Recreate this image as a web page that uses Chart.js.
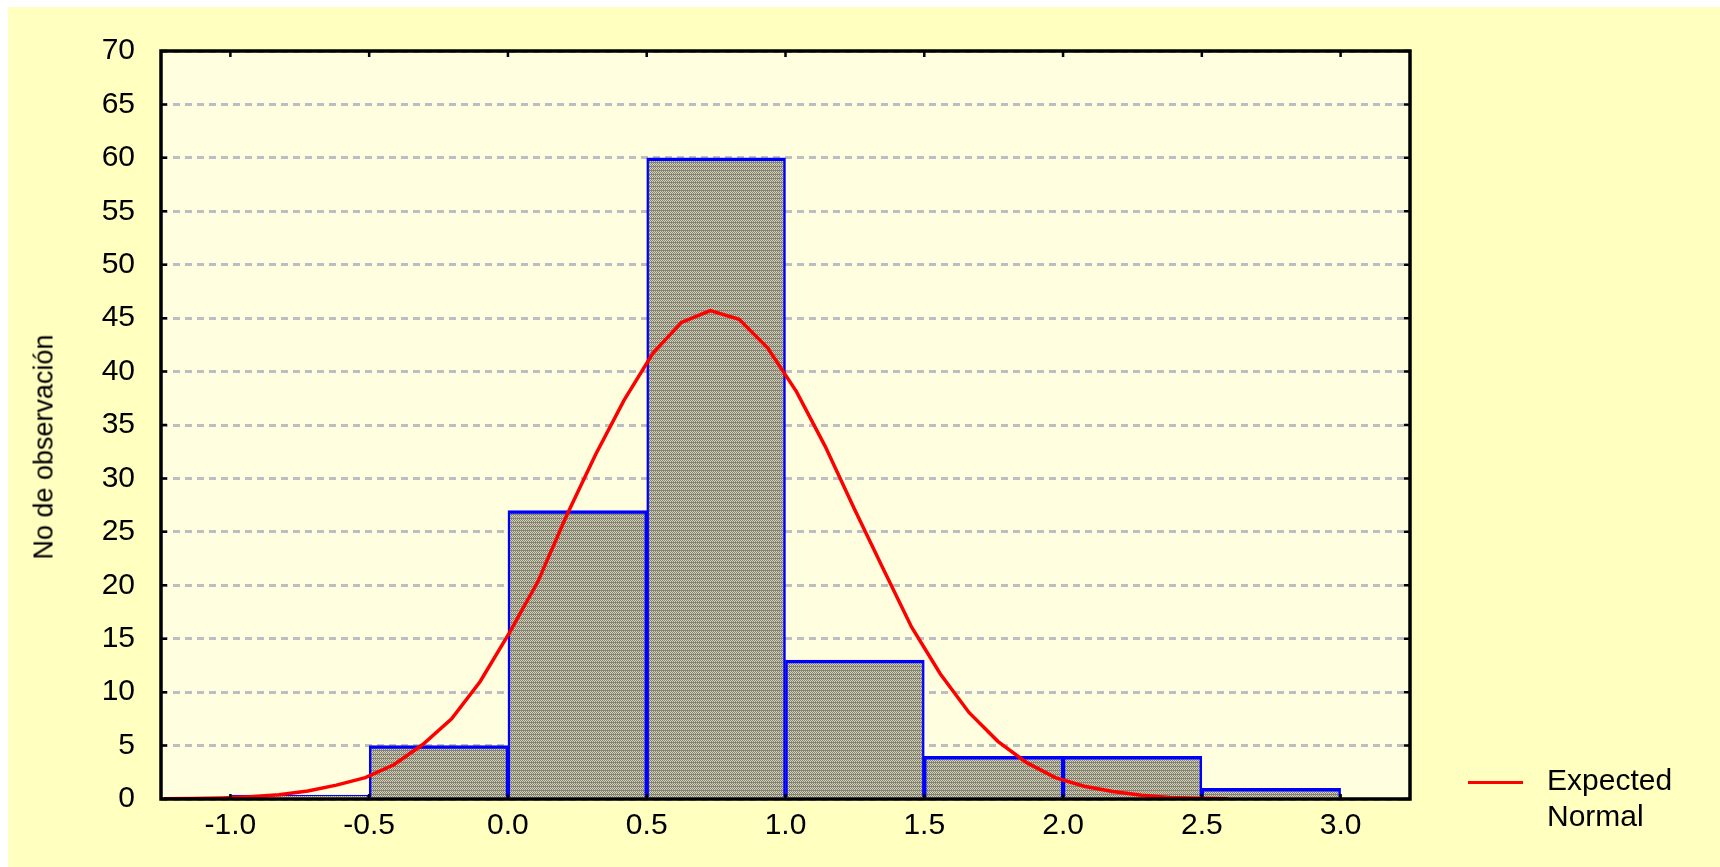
<!DOCTYPE html>
<html>
<head>
<meta charset="utf-8">
<script src="https://cdn.jsdelivr.net/npm/chart.js@4.4.1/dist/chart.umd.min.js"></script>
<style>
  body { margin: 0; background: #ffffff; font-family: "Liberation Sans", Arial, sans-serif; }
  #panel { position: absolute; left: 8px; top: 7px; width: 1712px; height: 860px; background: #ffffc0; }
  #chart-wrap { position: absolute; left: 0; top: 0; width: 1712px; height: 860px; }
  #ytitle { position: absolute; left: 44px; top: 447px; transform: translate(-50%, -50%) rotate(-90deg);
            font-size: 27px; white-space: nowrap; color: #000; }
  #legend-line { position: absolute; left: 1468px; top: 781px; width: 55px; height: 3px; background: #ff0000; }
  #legend-text { position: absolute; left: 1547px; top: 762px; font-size: 30px; line-height: 36px; color: #000; }
</style>
</head>
<body>
<div id="panel">
  <div id="chart-wrap"><canvas id="histograma"></canvas></div>
</div>
<div id="ytitle">No de observación</div>
<div id="legend-line"></div>
<div id="legend-text">Expected<br>Normal</div>

<script>
// Histograma: centros das classes e frequências
const binCenters = [-0.75, -0.25, 0.25, 0.75, 1.25, 1.75, 2.25, 2.75];
const binCounts = [0, 5, 27, 60, 13, 4, 4, 1];

// Curva normal esperada
const curveX = [-1.239, -1.136, -1.032, -0.929, -0.825, -0.721, -0.618, -0.514, -0.411, -0.307,
  -0.203, -0.100, 0.004, 0.107, 0.211, 0.315, 0.418, 0.522, 0.625, 0.729,
  0.833, 0.936, 1.040, 1.143, 1.247, 1.351, 1.454, 1.558, 1.661, 1.765,
  1.869, 1.972, 2.076, 2.179, 2.283, 2.387, 2.490, 2.594];
const curveY = [0.02, 0.05, 0.1, 0.2, 0.4, 0.75, 1.3, 2.0, 3.2, 5.1,
  7.5, 11.0, 15.5, 20.3, 26.5, 32.2, 37.3, 41.7, 44.6, 45.7,
  44.9, 42.2, 38.1, 33.0, 27.2, 21.6, 16.1, 11.7, 8.1, 5.4,
  3.4, 2.0, 1.2, 0.7, 0.35, 0.15, 0.06, 0.02];

// Marcas dos eixos
const xTicks = [-1.0, -0.5, 0.0, 0.5, 1.0, 1.5, 2.0, 2.5, 3.0];
const yTicks = [0, 5, 10, 15, 20, 25, 30, 35, 40, 45, 50, 55, 60, 65, 70];

// Textura hachurada das barras
function makeHatch() {
  const tile = document.createElement('canvas');
  tile.width = 2;
  tile.height = 4;
  const t = tile.getContext('2d');
  const light = '#d4d2bb', dark = '#858371';
  t.fillStyle = light; t.fillRect(0, 0, 2, 4);
  t.fillStyle = dark;
  t.fillRect(1, 0, 1, 1);
  t.fillRect(0, 1, 1, 1);
  t.fillRect(1, 2, 1, 1);
  t.fillRect(0, 3, 2, 1);
  return t.createPattern(tile, 'repeat');
}

// Fundo da área do gráfico
const plotBackground = {
  id: 'plotBackground',
  beforeDraw(chart) {
    const { ctx, chartArea: a } = chart;
    ctx.save();
    ctx.fillStyle = '#ffffdf';
    ctx.fillRect(a.left, a.top, a.right - a.left, a.bottom - a.top);
    ctx.restore();
  }
};

// Moldura preta e marcas internas nos quatro lados
const frame = {
  id: 'frame',
  afterDatasetsDraw(chart) {
    const { ctx, chartArea: a, scales } = chart;
    ctx.save();
    ctx.strokeStyle = '#000';
    ctx.lineWidth = 2.5;
    xTicks.forEach(v => {
      const px = scales.x.getPixelForValue(v);
      ctx.beginPath();
      ctx.moveTo(px, a.top); ctx.lineTo(px, a.top + 6);
      ctx.moveTo(px, a.bottom); ctx.lineTo(px, a.bottom - 5);
      ctx.stroke();
    });
    yTicks.forEach(v => {
      const py = scales.y.getPixelForValue(v);
      ctx.beginPath();
      ctx.moveTo(a.left, py); ctx.lineTo(a.left + 6, py);
      ctx.moveTo(a.right, py); ctx.lineTo(a.right - 6, py);
      ctx.stroke();
    });
    ctx.lineWidth = 3.5;
    ctx.strokeRect(a.left, a.top, a.right - a.left, a.bottom - a.top);
    ctx.restore();
  }
};

Chart.defaults.font.family = '"Liberation Sans", Arial, sans-serif';
Chart.defaults.color = '#000';

const ctx = document.getElementById('histograma').getContext('2d');
new Chart(ctx, {
  type: 'bar',
  data: {
    datasets: [
      {
        type: 'line',
        label: 'Expected Normal',
        data: curveX.map((x, i) => ({ x: x, y: curveY[i] })),
        borderColor: '#ff0000',
        borderWidth: 3.5,
        pointRadius: 0,
        tension: 0,
        order: 0
      },
      {
        type: 'bar',
        label: 'No de observación',
        data: binCenters.map((x, i) => ({ x: x, y: binCounts[i] })),
        backgroundColor: makeHatch(),
        borderColor: '#0000ff',
        borderWidth: { top: 3.5, left: 2.5, right: 2.5, bottom: 0 },
        borderSkipped: 'start',
        barPercentage: 1,
        categoryPercentage: 1,
        minBarLength: 4,
        order: 1
      }
    ]
  },
  options: {
    responsive: true,
    maintainAspectRatio: false,
    animation: false,
    layout: { padding: { top: 38, right: 310, left: 0, bottom: 0 } },
    plugins: {
      legend: { display: false },
      tooltip: { enabled: false }
    },
    scales: {
      x: {
        type: 'linear',
        offset: false,
        min: -1.25,
        max: 3.25,
        afterFit: s => { s.height = 68; },
        afterBuildTicks: s => { s.ticks = xTicks.map(v => ({ value: v })); },
        grid: { display: false, drawTicks: false, offset: false },
        border: { display: false },
        ticks: {
          padding: 9,
          font: { size: 30 },
          callback: v => Number(v).toFixed(1)
        }
      },
      y: {
        min: 0,
        max: 70,
        afterFit: s => { s.width = 153; },
        afterBuildTicks: s => { s.ticks = yTicks.map(v => ({ value: v })); },
        grid: {
          color: '#bdbdc4',
          lineWidth: 3,
          drawTicks: false
        },
        border: { display: false, dash: [7, 5] },
        ticks: {
          padding: 26,
          font: { size: 30 }
        }
      }
    }
  },
  plugins: [plotBackground, frame]
});
</script>
</body>
</html>
